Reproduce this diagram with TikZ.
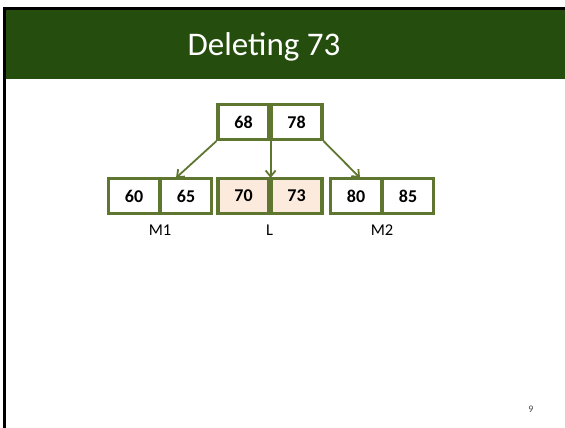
\documentclass[tikz,border=0pt]{standalone}
\usepackage{fontspec}
\setmainfont{Carlito}
\usetikzlibrary{arrows.meta}
\definecolor{titlegreen}{RGB}{37,77,13}
\definecolor{olive}{RGB}{94,118,48}
\definecolor{peach}{RGB}{252,234,220}
\tikzset{
  cell/.style={draw=olive, line width=3.2pt, minimum width=51pt, minimum height=35pt,
    inner sep=0pt, font=\fontsize{18}{20}\selectfont\bfseries, fill=white},
  hot/.style={cell, fill=peach},
  lbl/.style={font=\fontsize{16.5}{18}\selectfont, inner sep=0pt},
  link/.style={draw=olive, line width=1.8pt, -{Straight Barb[length=6pt,width=10pt]}}
}
\begin{document}
\begin{tikzpicture}[x=1pt,y=-1pt]
\useasboundingbox (0,0) rectangle (565,428);
\fill[white] (-5,-5) rectangle (570,433);
\fill[black] (3,7.5) rectangle (570,10);
\fill[black] (3,7.5) rectangle (5.5,433);
\fill[titlegreen] (5.5,10) rectangle (570,79);
\node[text=white, font=\fontsize{33}{36}\selectfont] (title) at (264,47) {Deleting 73};
% root
\node[cell] (ra) at (243.5,122) {68};
\node[cell] (rb) at (296.5,122) {78};
% leaves
\node[cell] (m1a) at (134,196) {60};
\node[cell] (m1b) at (186,196) {65};
\node[hot] (la) at (243.5,196) {70};
\node[hot] (lb) at (296.5,196) {73};
\node[cell] (m2a) at (356,196) {80};
\node[cell] (m2b) at (408,196) {85};
% labels
\node[lbl] (lm1) at (160,230) {M1};
\node[lbl] (ll) at (269.5,230) {L};
\node[lbl] (lm2) at (382,230) {M2};
% arrows
\draw[link] (ra.south west) -- ([xshift=-10pt,yshift=-1pt]m1b.north);
\draw[link] (ra.south east) -- ([yshift=-1pt]la.north east);
\draw[link] (rb.south east) -- ([xshift=4pt,yshift=-1pt]m2a.north);
% page number
\node[text=black!70, font=\fontsize{10}{11}\selectfont] (pg) at (531,409) {9};
\end{tikzpicture}
\end{document}
